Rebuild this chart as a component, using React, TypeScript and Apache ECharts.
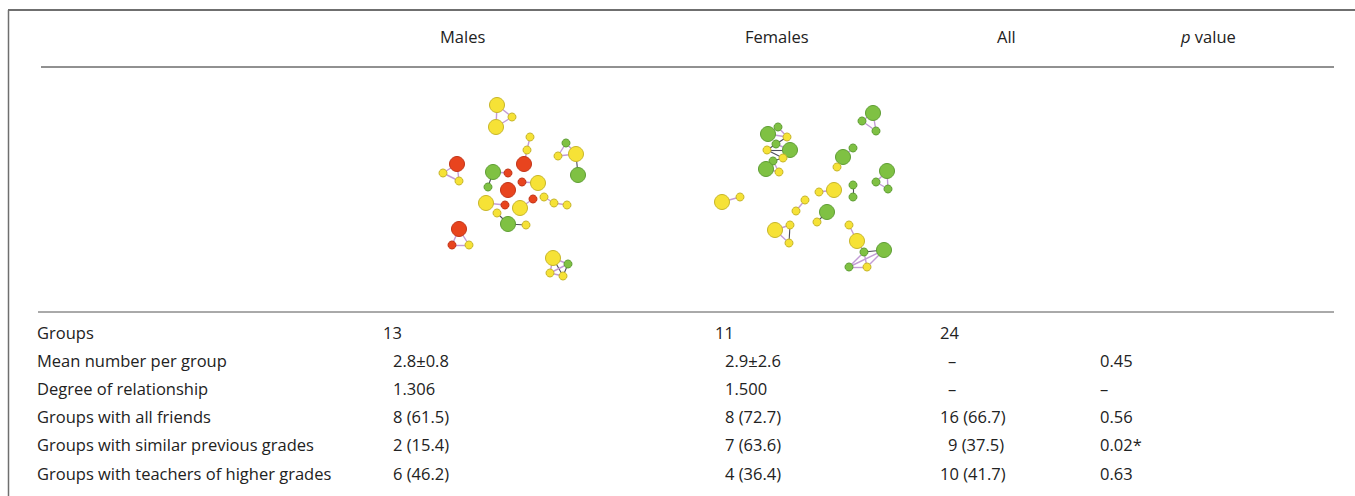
import React, { useEffect, useRef } from "react";
import * as echarts from "echarts";

// ---------- Table data ----------
const headerLabels = ["Males", "Females", "All", "p value"];
const rowLabels = [
  "Groups",
  "Mean number per group",
  "Degree of relationship",
  "Groups with all friends",
  "Groups with similar previous grades",
  "Groups with teachers of higher grades",
];
const malesValues = ["13", "2.8±0.8", "1.306", "8 (61.5)", "2 (15.4)", "6 (46.2)"];
const femalesValues = ["11", "2.9±2.6", "1.500", "8 (72.7)", "7 (63.6)", "4 (36.4)"];
const allValues = ["24", "–", "–", "16 (66.7)", "9 (37.5)", "10 (41.7)"];
const pValues = ["", "0.45", "–", "0.56", "0.02*", "0.63"];

// ---------- Network data: [name, x, y, kind (L=large,S=small), colour group] ----------
type N = [string, number, number, string, string];
const maleNodes: N[] = [
  ["m1", 497, 105, "L", "Y"], ["m2", 496, 127, "L", "Y"], ["m3", 512, 117, "S", "Y"],
  ["m4", 530, 137, "S", "Y"], ["m5", 527, 150, "S", "Y"], ["m6", 524, 164, "L", "R"],
  ["m7", 457, 164, "L", "R"], ["m8", 443, 173, "S", "Y"], ["m9", 459, 181, "S", "Y"],
  ["m10", 566, 143, "S", "G"], ["m11", 558, 156, "S", "Y"], ["m12", 576, 154, "L", "Y"], ["m13", 578, 175, "L", "G"],
  ["m14", 493, 172, "L", "G"], ["m15", 508, 173, "S", "R"], ["m16", 488, 187, "S", "G"],
  ["m17", 508, 190, "L", "R"],
  ["m18", 522, 182, "S", "R"], ["m19", 538, 183, "L", "Y"],
  ["m20", 486, 203, "L", "Y"], ["m21", 505, 205, "S", "R"],
  ["m22", 520, 208, "L", "Y"], ["m23", 533, 199, "S", "R"],
  ["m24", 544, 197, "S", "Y"], ["m25", 554, 203, "S", "Y"], ["m26", 567, 205, "S", "Y"],
  ["m27", 497, 213, "S", "Y"], ["m28", 508, 224, "L", "G"], ["m29", 526, 225, "S", "Y"],
  ["m30", 459, 229, "L", "R"], ["m31", 452, 245, "S", "R"], ["m32", 469, 245, "S", "Y"],
  ["m33", 553, 258, "L", "Y"], ["m34", 568, 264, "S", "G"], ["m35", 550, 273, "S", "Y"], ["m36", 563, 276, "S", "Y"],
];
// [source, target, kind (P=lilac, D=dark)]
const maleLinks: [string, string, string][] = [
  ["m1", "m2", "P"], ["m1", "m3", "P"], ["m2", "m3", "P"],
  ["m4", "m5", "P"], ["m5", "m6", "P"],
  ["m7", "m8", "P"], ["m7", "m9", "P"], ["m8", "m9", "P"],
  ["m10", "m11", "P"], ["m10", "m12", "P"], ["m11", "m12", "P"], ["m12", "m13", "D"],
  ["m14", "m15", "P"], ["m14", "m16", "D"],
  ["m18", "m19", "P"],
  ["m20", "m21", "P"],
  ["m22", "m23", "P"],
  ["m24", "m25", "P"], ["m25", "m26", "P"],
  ["m27", "m28", "D"], ["m28", "m29", "D"],
  ["m30", "m31", "P"], ["m30", "m32", "P"], ["m31", "m32", "P"],
  ["m33", "m34", "P"], ["m33", "m35", "P"], ["m33", "m36", "D"], ["m34", "m35", "P"], ["m34", "m36", "D"], ["m35", "m36", "P"],
];

const femaleNodes: N[] = [
  ["f1", 768, 134, "L", "G"], ["f2", 778, 127, "S", "G"], ["f3", 787, 137, "S", "Y"],
  ["f4", 767, 150, "S", "Y"], ["f5", 776, 144, "S", "G"], ["f6", 790, 150, "L", "G"],
  ["f7", 783, 158, "S", "Y"], ["f8", 773, 161, "S", "G"], ["f9", 766, 169, "L", "G"], ["f10", 779, 172, "S", "Y"],
  ["f11", 873, 113, "L", "G"], ["f12", 862, 121, "S", "G"], ["f13", 876, 131, "S", "G"],
  ["f14", 853, 148, "S", "G"], ["f15", 843, 157, "L", "G"], ["f16", 837, 167, "S", "Y"],
  ["f17", 887, 171, "L", "G"], ["f18", 876, 182, "S", "G"], ["f19", 888, 189, "S", "G"],
  ["f20", 819, 192, "S", "Y"], ["f21", 834, 190, "L", "Y"],
  ["f22", 853, 185, "S", "G"], ["f23", 853, 197, "S", "G"],
  ["f24", 722, 202, "L", "Y"], ["f25", 740, 197, "S", "Y"],
  ["f26", 805, 200, "S", "Y"], ["f27", 796, 211, "S", "Y"],
  ["f28", 827, 212, "L", "G"], ["f29", 817, 222, "S", "Y"],
  ["f30", 775, 230, "L", "Y"], ["f31", 790, 225, "S", "Y"], ["f32", 789, 243, "S", "Y"],
  ["f33", 849, 225, "S", "Y"], ["f34", 857, 241, "L", "Y"], ["f35", 864, 252, "S", "G"],
  ["f36", 884, 250, "L", "G"], ["f37", 849, 267, "S", "G"], ["f38", 867, 267, "S", "Y"],
];
const femaleLinks: [string, string, string][] = [
  ["f1", "f2", "P"], ["f1", "f3", "P"], ["f2", "f3", "P"],
  ["f3", "f5", "D"], ["f4", "f5", "D"], ["f4", "f6", "D"], ["f5", "f6", "P"],
  ["f4", "f7", "D"], ["f6", "f7", "D"], ["f7", "f8", "D"], ["f8", "f9", "D"], ["f9", "f10", "P"], ["f8", "f10", "P"],
  ["f11", "f12", "P"], ["f11", "f13", "P"], ["f12", "f13", "P"],
  ["f14", "f15", "P"], ["f15", "f16", "D"],
  ["f17", "f18", "P"], ["f17", "f19", "P"], ["f18", "f19", "P"],
  ["f20", "f21", "P"],
  ["f22", "f23", "D"],
  ["f24", "f25", "P"],
  ["f26", "f27", "P"],
  ["f28", "f29", "D"],
  ["f30", "f31", "P"], ["f30", "f32", "P"], ["f31", "f32", "D"],
  ["f33", "f34", "P"], ["f34", "f35", "P"], ["f35", "f36", "D"],
  ["f35", "f37", "P"], ["f35", "f38", "P"], ["f36", "f37", "P"], ["f36", "f38", "P"], ["f37", "f38", "P"],
];

// ---------- Styles ----------
const FILL: Record<string, string> = { Y: "#f6e236", G: "#7fc143", R: "#e8441e" };
const STROKE: Record<string, string> = { Y: "#c7b62a", G: "#5f9e34", R: "#c23418" };
const LINK_COLOR: Record<string, string> = { P: "#c29bd6", D: "#4d4d5c" };
const FONT = "'Open Sans', 'Noto Sans', sans-serif";
const FONT_SIZE = 16.5;
const TEXT_COLOR = "#222222";

function buildGraph(nodes: N[], links: [string, string, string][]) {
  return {
    type: "graph",
    coordinateSystem: "cartesian2d",
    silent: true,
    z: 5,
    label: { show: false },
    emphasis: { disabled: true },
    data: nodes.map(([name, x, y, kind, col]) => ({
      name,
      value: [x, y],
      symbol: "circle",
      symbolSize: kind === "L" ? 15 : 8,
      itemStyle: { color: FILL[col], borderColor: STROKE[col], borderWidth: 1 },
    })),
    links: links.map(([s, t, k]) => ({
      source: s,
      target: t,
      lineStyle: { color: LINK_COLOR[k], width: k === "D" ? 1.1 : 1.4, opacity: 1, curveness: 0 },
    })),
  };
}

export default function App() {
  const ref = useRef<HTMLDivElement>(null);
  useEffect(() => {
    document.body.style.margin = "0";
    if (!ref.current) return;
    const chart = echarts.init(ref.current, undefined, { renderer: "svg" });

    const rowY0 = 332;
    const rowStep = 28.2;
    const textBase = { font: `${FONT_SIZE}px ${FONT}`, fill: TEXT_COLOR, verticalAlign: "middle" as const };

    const graphics: any[] = [];
    // frame lines
    graphics.push({ type: "line", shape: { x1: 8, y1: 10, x2: 1355, y2: 10 }, style: { stroke: "#6f6f6f", lineWidth: 2 } });
    graphics.push({ type: "line", shape: { x1: 8.5, y1: 10, x2: 8.5, y2: 496 }, style: { stroke: "#6f6f6f", lineWidth: 1.5 } });
    graphics.push({ type: "line", shape: { x1: 41, y1: 67, x2: 1334, y2: 67 }, style: { stroke: "#222222", lineWidth: 1 } });
    graphics.push({ type: "line", shape: { x1: 38, y1: 312, x2: 1334, y2: 312 }, style: { stroke: "#555555", lineWidth: 1 } });

    // header
    const headerX = [440, 745, 997, 1181];
    headerLabels.forEach((h, i) => {
      if (h.startsWith("p ")) {
        graphics.push({
          type: "text",
          x: headerX[i],
          y: 36,
          style: {
            text: "{i|p}" + h.slice(1),
            font: `${FONT_SIZE}px ${FONT}`,
            fill: TEXT_COLOR,
            verticalAlign: "middle",
            rich: { i: { fontStyle: "italic", fontFamily: FONT, fontSize: FONT_SIZE, fill: TEXT_COLOR } },
          },
        });
      } else {
        graphics.push({ type: "text", x: headerX[i], y: 36, style: { ...textBase, text: h } });
      }
    });

    // body
    rowLabels.forEach((l, r) => {
      graphics.push({ type: "text", x: 37, y: rowY0 + r * rowStep, style: { ...textBase, text: l } });
    });
    const cols = [
      { vals: malesValues, x: 383, indent: [0, 10, 10, 10, 10, 10] },
      { vals: femalesValues, x: 715, indent: [0, 10, 10, 10, 10, 10] },
      { vals: allValues, x: 940, indent: [0, 8, 8, 0, 8, 0] },
      { vals: pValues, x: 1100, indent: [0, 0, 0, 0, 0, 0] },
    ];
    cols.forEach((c) => {
      c.vals.forEach((v, r) => {
        if (!v) return;
        graphics.push({ type: "text", x: c.x + c.indent[r], y: rowY0 + r * rowStep, style: { ...textBase, text: v } });
      });
    });

    chart.setOption({
      animation: false,
      backgroundColor: "#ffffff",
      grid: { left: 0, right: 0, top: 0, bottom: 0 },
      xAxis: { type: "value", min: 0, max: 1355, show: false },
      yAxis: { type: "value", min: 0, max: 496, inverse: true, show: false },
      series: [buildGraph(maleNodes, maleLinks), buildGraph(femaleNodes, femaleLinks)],
      graphic: graphics,
    });
    return () => chart.dispose();
  }, []);
  return <div ref={ref} style={{ width: 1355, height: 496 }} />;
}
